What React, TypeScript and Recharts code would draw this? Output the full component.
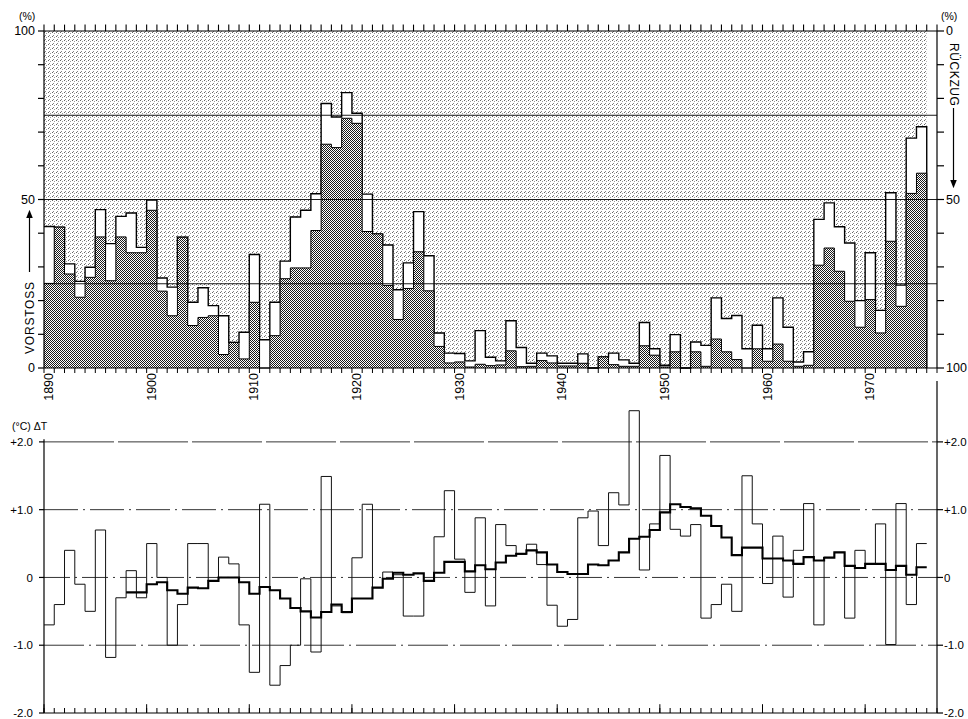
import React from 'react';
import {
  ComposedChart,
  Area,
  Line,
  XAxis,
  YAxis,
  ReferenceLine,
  ReferenceArea,
} from 'recharts';

const FONT = '"Liberation Sans", Arial, sans-serif';
const START_YEAR = 1890;
const END_YEAR = 1977;
const PLOT_LEFT = 44;
const PLOT_RIGHT_GAP = 31;
const HALF_YEAR_PX = (968 - PLOT_LEFT - PLOT_RIGHT_GAP) / (END_YEAR - START_YEAR) / 2;

// Anteil der Gletscher im Vorstoss (%) - gesamt (weisse Kästchen) und sicher (gerastert)
const advanceTotal = [
  42, 41.8, 30.9, 25.7, 29.9, 47, 36.9, 45, 46, 35.8,
  49.8, 26.7, 24, 38.8, 19.5, 23.8, 18.5, 15.5, 7.6, 10.6,
  33.7, 8.4, 19.5, 31.7, 44.8, 46.8, 51.7, 78.5, 74.5, 81.7,
  75.6, 51.6, 39.8, 36.5, 23.2, 31.2, 46.4, 33.3, 10.4, 4.4,
  4.3, 2.1, 11.1, 3.2, 2.1, 14.0, 6.1, 1.4, 4.4, 3.6,
  1.4, 1.4, 4.2, 0, 3.3, 4.4, 2.4, 1.4, 13.5, 5.7,
  0.8, 9.9, 0, 7.7, 6.7, 20.8, 14.7, 15.6, 5.7, 12.7,
  5.7, 20.8, 12.1, 1.8, 4.8, 44.1, 49, 41.9, 37.1, 20,
  34.2, 17.1, 52, 24.6, 68.2, 71.6,
];
const advanceCore = [
  25.1, 41.8, 27.9, 21, 26.9, 38.9, 25.9, 38.9, 34.2, 34.2,
  46.8, 22.8, 15.5, 38.8, 12.6, 15, 15.5, 4, 7.6, 2.7,
  19.5, 0, 9.6, 26.5, 29.7, 29.7, 40.8, 66.4, 65.4, 74.1,
  72.6, 40.5, 39.8, 24.5, 14.4, 23.6, 34.5, 22.9, 6.4, 1.5,
  1.8, 0.3, 1.1, 0.7, 0.9, 5.1, 0.4, 0.5, 2.2, 1.5,
  0.6, 0.6, 1.4, 0, 3.3, 1.0, 0.5, 0.5, 6.6, 3.8,
  0.3, 4.8, 0, 4.8, 0.5, 8.6, 4.8, 2.5, 0, 5.7,
  2.0, 7.1, 2.0, 0.5, 0.8, 30.5, 35.6, 28.7, 19.8, 12.1,
  20.3, 10.4, 37.6, 18.3, 51.8, 57.8,
];

// Temperaturabweichung (°C), Jahreswerte und übergreifendes Mittel
const deltaT = [
  -0.7, -0.4, 0.4, -0.1, -0.5, 0.7, -1.18, -0.3, 0.1, -0.3,
  0.5, 0.0, -1.0, -0.4, 0.5, 0.5, -0.05, 0.3, 0.2, -0.7,
  -1.4, 1.08, -1.59, -1.3, -1.0, -0.02, -1.1, 1.49, -0.42, -0.52,
  0.29, 1.08, -0.15, 0.08, 0.04, -0.57, -0.57, -0.05, 0.6, 1.28,
  0.27, -0.22, 0.88, -0.42, 0.78, 0.47, 0.34, 0.49, 0.19, -0.41,
  -0.72, -0.62, 0.88, 0.98, 0.47, 1.25, 1.07, 2.46, 0.11, 0.79,
  1.8, 0.71, 0.61, 0.78, -0.6, -0.4, -0.1, -0.5, 1.5, 0.79,
  -0.09, 0.61, -0.29, 0.4, 1.09, -0.7, 0.3, 0.37, -0.6, 0.4,
  0.2, 0.79, -0.99, 1.09, -0.4, 0.5,
];
const deltaTMean = [
  null, null, null, null, null, null, null, null, -0.22, -0.22,
  -0.1, -0.07, -0.19, -0.24, -0.15, -0.16, -0.05, 0.0, 0.0, -0.07,
  -0.24, -0.14, -0.19, -0.31, -0.45, -0.5, -0.59, -0.51, -0.4, -0.51,
  -0.31, -0.31, -0.15, -0.02, 0.07, 0.04, 0.06, -0.05, 0.07, 0.23,
  0.23, 0.09, 0.18, 0.12, 0.22, 0.32, 0.35, 0.4, 0.37, 0.19,
  0.08, 0.05, 0.05, 0.19, 0.18, 0.25, 0.37, 0.57, 0.6, 0.7,
  0.96, 1.08, 1.04, 1.02, 0.91, 0.76, 0.59, 0.33, 0.44, 0.44,
  0.28, 0.28, 0.25, 0.2, 0.3, 0.25, 0.29, 0.37, 0.17, 0.14,
  0.2, 0.2, 0.11, 0.17, 0.04, 0.15,
];

const years = advanceTotal.map((_, i) => START_YEAR + i);
const lastYear = years[years.length - 1] + 1;
const yearTicks = [...years, lastYear, END_YEAR];
const decades = [1890, 1900, 1910, 1920, 1930, 1940, 1950, 1960, 1970];
const pctTicks = [0, 10, 20, 30, 40, 50, 60, 70, 80, 90, 100];
const pctLabels = [0, 50, 100];
const pctGrid = [25, 50, 75];
const tempTicks = [-2, -1, 0, 1, 2];
// the 1947 value pokes above the +2 line, so the scale runs a little higher than the frame
const tempDomain = [-2, 2.5];

const topRows = [
  ...years.map((year, i) => ({ year, total: advanceTotal[i], core: advanceCore[i] })),
  { year: lastYear, total: 0, core: 0 },
];
const lastIdx = years.length - 1;
const bottomRows = [
  ...years.map((year, i) => ({ year, dt: deltaT[i], mean: deltaTMean[i] })),
  { year: lastYear, dt: deltaT[lastIdx], mean: deltaTMean[lastIdx] },
];

const tickFont = { fill: '#000', fontSize: 12.5, fontFamily: FONT };
const rightTickFont = { fill: '#000', fontSize: 11.5, fontFamily: FONT };
const axisStroke = { stroke: '#000', strokeWidth: 1.2 };
const thinTick = { stroke: '#000', strokeWidth: 1 };
const noLabel = () => '';

const fmtTemp = (v: number) => (v === 0 ? '0' : v > 0 ? `+${v.toFixed(1)}` : v.toFixed(1));
const fmtPct = (v: number) => (pctLabels.includes(v) ? String(v) : '');

// year label sits in the middle of its one-year bar, rotated to read upwards
const YearTick = (props: any) => {
  const { x, y, payload } = props;
  if (!decades.includes(payload.value)) return <g />;
  const cx = x + HALF_YEAR_PX;
  return (
    <text
      x={cx}
      y={y}
      transform={`rotate(-90 ${cx} ${y})`}
      textAnchor="end"
      dominantBaseline="central"
      fontSize={12.5}
      fontFamily={FONT}
      fill="#000"
    >
      {payload.value}
    </text>
  );
};

function Patterns() {
  return (
    <svg width={0} height={0} style={{ position: 'absolute' }}>
      <defs>
        <pattern id="bgDots" width="4" height="4" patternUnits="userSpaceOnUse">
          <rect x="0" y="0" width="1" height="1" fill="#666" />
          <rect x="2" y="1" width="1" height="1" fill="#999" />
          <rect x="1" y="3" width="1" height="1" fill="#888" />
        </pattern>
        <pattern id="coreDots" width="2" height="2" patternUnits="userSpaceOnUse">
          <rect width="2" height="2" fill="#fff" />
          <rect x="0" y="0" width="1" height="1" fill="#1a1a1a" />
          <rect x="1" y="1" width="1" height="1" fill="#1a1a1a" />
        </pattern>
      </defs>
    </svg>
  );
}

function AdvancePanel() {
  return (
    <ComposedChart
      width={968}
      height={410}
      data={topRows}
      margin={{ top: 31, right: 0, bottom: 0, left: 0 }}
    >
      <XAxis
        xAxisId="yr"
        dataKey="year"
        type="number"
        domain={[START_YEAR, END_YEAR]}
        ticks={yearTicks}
        interval={0}
        tick={<YearTick />}
        tickSize={5}
        tickMargin={0}
        height={42}
        axisLine={axisStroke}
        tickLine={thinTick}
      />
      <YAxis
        yAxisId="l"
        domain={[0, 100]}
        ticks={pctTicks}
        interval={0}
        width={PLOT_LEFT}
        tickSize={6}
        tickMargin={3}
        tick={tickFont}
        tickFormatter={fmtPct}
        axisLine={axisStroke}
        tickLine={axisStroke}
      />
      <YAxis
        yAxisId="r"
        orientation="right"
        reversed
        domain={[0, 100]}
        ticks={pctTicks}
        interval={0}
        width={PLOT_RIGHT_GAP}
        tickSize={7}
        tickMargin={2}
        tick={tickFont}
        tickFormatter={fmtPct}
        axisLine={axisStroke}
        tickLine={axisStroke}
      />
      <ReferenceArea
        xAxisId="yr"
        yAxisId="l"
        x1={START_YEAR}
        x2={lastYear}
        y1={0}
        y2={100}
        fill="url(#bgDots)"
        fillOpacity={1}
        stroke="none"
      />
      <Area
        xAxisId="yr"
        yAxisId="l"
        dataKey="total"
        type="stepAfter"
        fill="#fff"
        fillOpacity={1}
        stroke="#000"
        strokeWidth={1.4}
        isAnimationActive={false}
        dot={false}
        activeDot={false}
      />
      <Area
        xAxisId="yr"
        yAxisId="l"
        dataKey="core"
        type="stepAfter"
        fill="url(#coreDots)"
        fillOpacity={1}
        stroke="#000"
        strokeWidth={1}
        isAnimationActive={false}
        dot={false}
        activeDot={false}
      />
      {/* keeps the right-hand (Rückzug) axis alive; draws nothing */}
      <Line
        xAxisId="yr"
        yAxisId="r"
        dataKey="total"
        stroke="transparent"
        dot={false}
        activeDot={false}
        isAnimationActive={false}
      />
      {pctGrid.map((v) => (
        <ReferenceLine key={v} xAxisId="yr" yAxisId="l" y={v} stroke="#000" strokeWidth={0.9} />
      ))}
      <ReferenceLine xAxisId="yr" yAxisId="l" y={100} stroke="#000" strokeWidth={1.2} />
      {/* year comb along the upper frame */}
      {yearTicks.map((yr) => (
        <ReferenceLine
          key={`t${yr}`}
          xAxisId="yr"
          yAxisId="l"
          segment={[{ x: yr, y: 100 }, { x: yr, y: 101.9 }]}
          ifOverflow="visible"
          stroke="#000"
          strokeWidth={1.1}
        />
      ))}
    </ComposedChart>
  );
}

function TemperaturePanel() {
  return (
    <ComposedChart
      width={968}
      height={351}
      data={bottomRows}
      margin={{ top: 40, right: 0, bottom: 6, left: 0 }}
    >
      <XAxis
        xAxisId="yr"
        dataKey="year"
        type="number"
        domain={[START_YEAR, END_YEAR]}
        ticks={yearTicks}
        interval={0}
        tickFormatter={noLabel}
        mirror
        tickSize={5}
        height={1}
        axisLine={axisStroke}
        tickLine={thinTick}
      />
      <YAxis
        yAxisId="l"
        domain={tempDomain}
        ticks={tempTicks}
        interval={0}
        width={PLOT_LEFT}
        tickSize={5}
        tickMargin={6}
        tick={{ ...tickFont, fontSize: 11.5 }}
        tickFormatter={fmtTemp}
        axisLine={false}
        tickLine={axisStroke}
      />
      <YAxis
        yAxisId="r"
        orientation="right"
        domain={tempDomain}
        ticks={tempTicks}
        interval={0}
        width={PLOT_RIGHT_GAP}
        tickSize={6}
        tickMargin={1}
        tick={rightTickFont}
        tickFormatter={fmtTemp}
        axisLine={false}
        tickLine={axisStroke}
      />
      <ReferenceLine xAxisId="yr" yAxisId="l" y={2} stroke="#000" strokeWidth={0.8} strokeDasharray="70 4" />
      <ReferenceLine xAxisId="yr" yAxisId="l" y={1} stroke="#000" strokeWidth={0.8} strokeDasharray="34 5 2 5" />
      <ReferenceLine xAxisId="yr" yAxisId="l" y={0} stroke="#000" strokeWidth={0.8} strokeDasharray="26 5 2 5" />
      <ReferenceLine xAxisId="yr" yAxisId="l" y={-1} stroke="#000" strokeWidth={0.8} strokeDasharray="40 5 2 5" />
      {/* left frame stops at +2, right frame runs up to the upper panel */}
      <ReferenceLine
        xAxisId="yr"
        yAxisId="l"
        segment={[{ x: START_YEAR, y: -2 }, { x: START_YEAR, y: 2.04 }]}
        stroke="#000"
        strokeWidth={1.2}
      />
      <ReferenceLine
        xAxisId="yr"
        yAxisId="l"
        segment={[{ x: END_YEAR, y: -2 }, { x: END_YEAR, y: 2.9 }]}
        ifOverflow="visible"
        stroke="#000"
        strokeWidth={1.2}
      />
      {decades.map((d) => (
        <ReferenceLine
          key={`d${d}`}
          xAxisId="yr"
          yAxisId="l"
          segment={[{ x: d, y: -2 }, { x: d, y: -1.87 }]}
          stroke="#000"
          strokeWidth={1}
        />
      ))}
      <Line
        xAxisId="yr"
        yAxisId="l"
        dataKey="dt"
        type="stepAfter"
        stroke="#111"
        strokeWidth={1}
        dot={false}
        activeDot={false}
        isAnimationActive={false}
      />
      <Line
        xAxisId="yr"
        yAxisId="l"
        dataKey="mean"
        type="stepAfter"
        stroke="#000"
        strokeWidth={2.1}
        dot={false}
        activeDot={false}
        connectNulls={false}
        isAnimationActive={false}
      />
      {/* keeps the right-hand temperature axis alive; draws nothing */}
      <Line
        xAxisId="yr"
        yAxisId="r"
        dataKey="dt"
        stroke="transparent"
        dot={false}
        activeDot={false}
        isAnimationActive={false}
      />
    </ComposedChart>
  );
}

function Annotations() {
  const txt = { fontFamily: FONT, fill: '#000' };
  return (
    <svg
      width={968}
      height={719}
      style={{ position: 'absolute', left: 0, top: 0, pointerEvents: 'none' }}
    >
      <defs>
        <marker id="arrowHead" viewBox="0 0 10 10" refX="5" refY="5" markerWidth="7" markerHeight="9" orient="auto-start-reverse">
          <path d="M0,1 L10,5 L0,9 z" fill="#000" />
        </marker>
      </defs>
      <text x={19} y={20} fontSize={10.5} {...txt}>(%)</text>
      <text x={941} y={20} fontSize={10.5} {...txt}>(%)</text>
      <text x={34} y={354} transform="rotate(-90 34 354)" fontSize={12} letterSpacing={0.8} {...txt}>
        VORSTOSS
      </text>
      <line x1={29.5} y1={272} x2={29.5} y2={214} stroke="#000" strokeWidth={1.2} markerEnd="url(#arrowHead)" />
      <text x={950} y={43} transform="rotate(90 950 43)" fontSize={12} letterSpacing={0.6} {...txt}>
        RÜCKZUG
      </text>
      <line x1={953.5} y1={108} x2={953.5} y2={184} stroke="#000" strokeWidth={1.2} markerEnd="url(#arrowHead)" />
      <text x={12} y={430} fontSize={10.5} {...txt}>(°C) ΔT</text>
    </svg>
  );
}

export default function App() {
  return (
    <div style={{ position: 'absolute', left: 0, top: 0, width: 968, height: 719, background: '#fff', overflow: 'hidden' }}>
      <Patterns />
      <div style={{ position: 'absolute', left: 0, top: 368 }}>
        <TemperaturePanel />
      </div>
      <div style={{ position: 'absolute', left: 0, top: 0 }}>
        <AdvancePanel />
      </div>
      <Annotations />
    </div>
  );
}
